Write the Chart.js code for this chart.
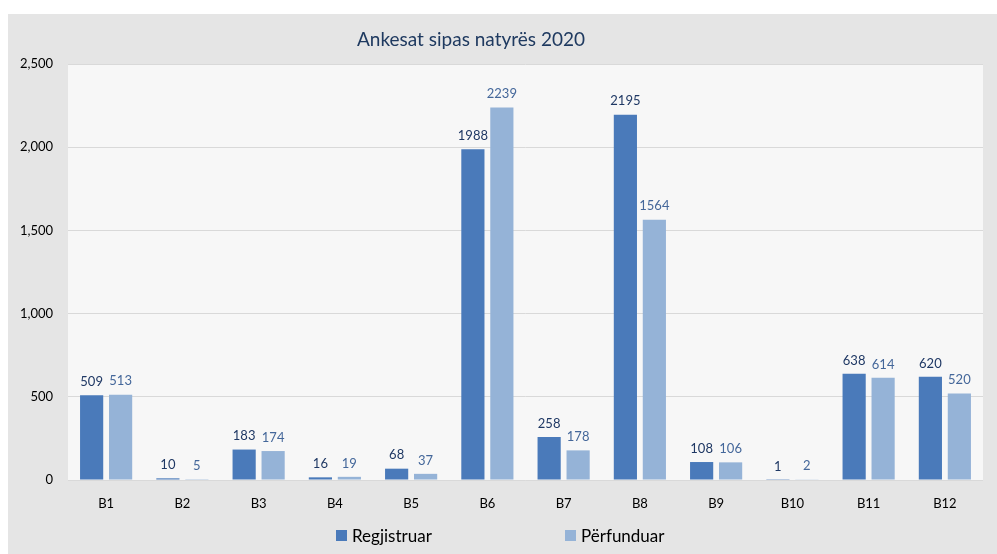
<!DOCTYPE html>
<html lang="sq">
<head>
  <meta charset="UTF-8" />
  <title>Ankesat sipas natyrës 2020</title>
  <script src="https://cdn.jsdelivr.net/npm/chart.js"></script>
  <style>
    html, body { margin: 0; padding: 0; background: #fff; }
    canvas { display: block; }
  </style>
</head>
<body>
  <canvas id="chart" width="997" height="554"></canvas>
  <script>
    // data
    const categories = ['B1', 'B2', 'B3', 'B4', 'B5', 'B6', 'B7', 'B8', 'B9', 'B10', 'B11', 'B12'];
    const regjistruar = [509, 10, 183, 16, 68, 1988, 258, 2195, 108, 1, 638, 620];
    const perfunduar = [513, 5, 174, 19, 37, 2239, 178, 1564, 106, 2, 614, 520];
    const seriesNames = ['Regjistruar', 'Përfunduar'];
    const yMax = 2500;
    const yStep = 500;

    const FONT = 'Lato, "Open Sans", sans-serif';
    const darkBlue = '#4a7aba';
    const lightBlue = '#95b3d7';
    const labelColors = ['#1f3864', '#44679a'];

    // background panel, plot area, title, legend and value labels
    const decorations = {
      id: 'decorations',
      beforeDraw(chart) {
        const c = chart.ctx, a = chart.chartArea;
        c.save();
        c.fillStyle = '#ffffff';
        c.fillRect(0, 0, chart.width, chart.height);
        c.fillStyle = '#e5e5e5';
        c.fillRect(8, 14, chart.width - 8, chart.height - 14);
        c.fillStyle = '#f7f7f7';
        c.fillRect(a.left, a.top, a.right - a.left, a.bottom - a.top);
        c.restore();
      },
      afterDatasetsDraw(chart) {
        const c = chart.ctx;
        c.save();
        c.font = '13px ' + FONT;
        c.textAlign = 'center';
        c.textBaseline = 'bottom';
        chart.data.datasets.forEach((ds, i) => {
          c.fillStyle = labelColors[i];
          chart.getDatasetMeta(i).data.forEach((bar, j) => {
            c.fillText(String(ds.data[j]), bar.x, bar.y - 7);
          });
        });
        c.restore();
      },
      afterDraw(chart) {
        const c = chart.ctx;
        c.save();
        c.fillStyle = '#1f3a60';
        c.font = '19px ' + FONT;
        c.textAlign = 'center';
        c.textBaseline = 'middle';
        c.fillText('Ankesat sipas natyrës 2020', 471, 40);

        // legend
        const items = [[336, darkBlue], [565, lightBlue]];
        c.font = '17px ' + FONT;
        c.textAlign = 'left';
        items.forEach(([x, col], i) => {
          c.fillStyle = col;
          c.fillRect(x, 530, 11, 11);
          c.fillStyle = '#000';
          c.fillText(chart.data.datasets[i].label, x + 16, 537);
        });
        c.restore();
      }
    };

    new Chart(document.getElementById('chart'), {
      type: 'bar',
      data: {
        labels: categories,
        datasets: [
          { label: seriesNames[0], data: regjistruar, backgroundColor: darkBlue },
          { label: seriesNames[1], data: perfunduar, backgroundColor: lightBlue }
        ]
      },
      options: {
        responsive: false,
        animation: false,
        devicePixelRatio: 1,
        layout: { padding: { top: 64, right: 14, bottom: 34, left: 0 } },
        datasets: { bar: { categoryPercentage: 0.76, barPercentage: 0.8 } },
        plugins: {
          legend: { display: false },
          title: { display: false },
          tooltip: { enabled: false }
        },
        scales: {
          x: {
            grid: { display: false },
            border: { display: false },
            ticks: { color: '#000', font: { family: FONT, size: 13 }, padding: 8 },
            afterFit: s => { s.height = 40; }
          },
          y: {
            min: 0,
            max: yMax,
            ticks: { stepSize: yStep, color: '#000', font: { family: FONT, size: 13 }, padding: 15 },
            grid: { color: '#d9d9d9', drawTicks: false },
            border: { display: false },
            afterFit: s => { s.width = 68; }
          }
        }
      },
      plugins: [decorations]
    });
  </script>
</body>
</html>
